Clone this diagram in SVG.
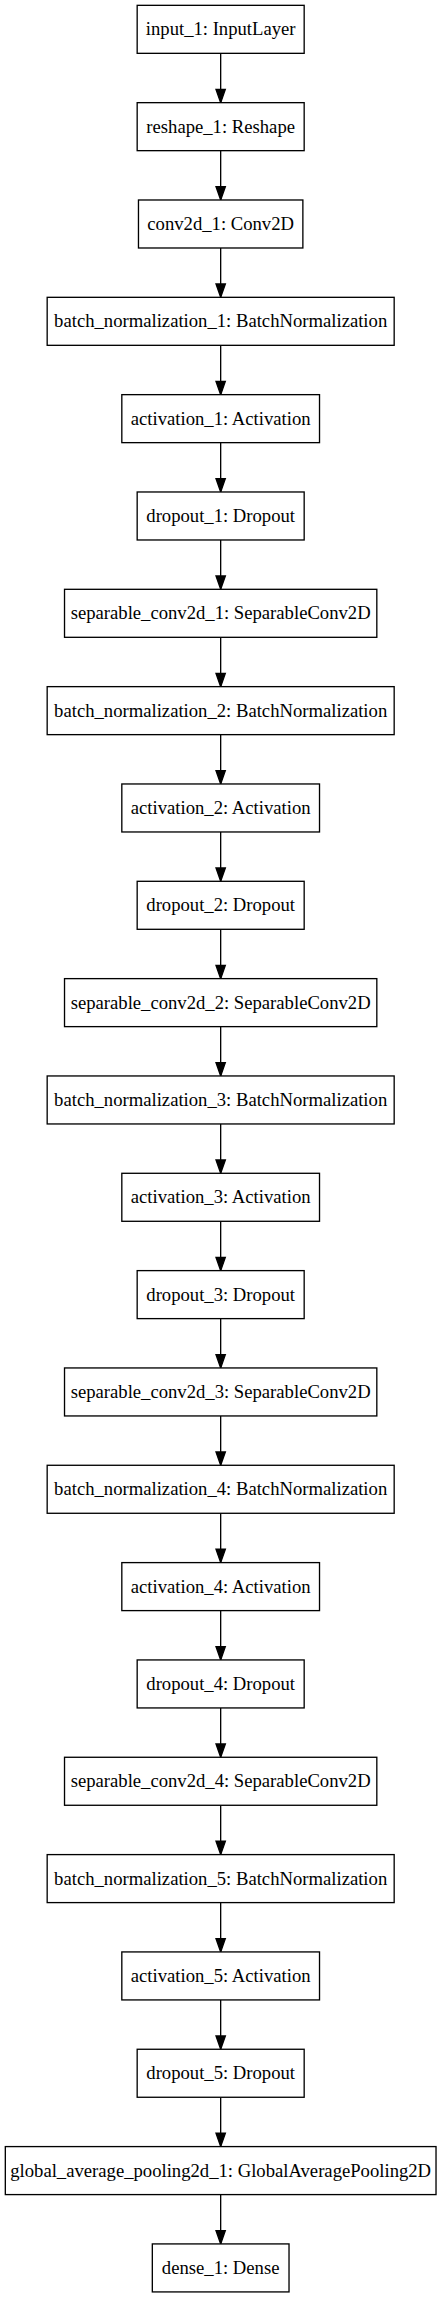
<svg xmlns="http://www.w3.org/2000/svg" width="441" height="2299" viewBox="0 0 441 2299">
<style>
.n rect{fill:#fff;stroke:#000;stroke-width:1.33}
.n text{font-family:"Liberation Serif","Times New Roman",serif;font-size:18.67px;text-anchor:middle;fill:#000}
.e line{stroke:#000;stroke-width:1.33;marker-end:url(#ah)}
</style>
<defs>
<marker id="ah" markerUnits="userSpaceOnUse" markerWidth="15" markerHeight="11" refX="13.33" refY="4.67" orient="auto" viewBox="-1 0 15 9.34" overflow="visible">
<path d="M0,0 L13.33,4.67 L0,9.34 Z" fill="#000" stroke="#000" stroke-width="1.33"/>
</marker>
</defs>
<rect width="441" height="2299" fill="#fff"/>
<g id="edges" class="e">
<line x1="220.67" y1="53.33" x2="220.67" y2="102.66"/>
<line x1="220.67" y1="150.66" x2="220.67" y2="199.99"/>
<line x1="220.67" y1="247.99" x2="220.67" y2="297.32"/>
<line x1="220.67" y1="345.32" x2="220.67" y2="394.65"/>
<line x1="220.67" y1="442.65" x2="220.67" y2="491.98"/>
<line x1="220.67" y1="539.98" x2="220.67" y2="589.31"/>
<line x1="220.67" y1="637.31" x2="220.67" y2="686.64"/>
<line x1="220.67" y1="734.64" x2="220.67" y2="783.97"/>
<line x1="220.67" y1="831.97" x2="220.67" y2="881.30"/>
<line x1="220.67" y1="929.30" x2="220.67" y2="978.63"/>
<line x1="220.67" y1="1026.63" x2="220.67" y2="1075.96"/>
<line x1="220.67" y1="1123.96" x2="220.67" y2="1173.29"/>
<line x1="220.67" y1="1221.29" x2="220.67" y2="1270.62"/>
<line x1="220.67" y1="1318.62" x2="220.67" y2="1367.95"/>
<line x1="220.67" y1="1415.95" x2="220.67" y2="1465.28"/>
<line x1="220.67" y1="1513.28" x2="220.67" y2="1562.61"/>
<line x1="220.67" y1="1610.61" x2="220.67" y2="1659.94"/>
<line x1="220.67" y1="1707.94" x2="220.67" y2="1757.27"/>
<line x1="220.67" y1="1805.27" x2="220.67" y2="1854.60"/>
<line x1="220.67" y1="1902.60" x2="220.67" y2="1951.93"/>
<line x1="220.67" y1="1999.93" x2="220.67" y2="2049.26"/>
<line x1="220.67" y1="2097.26" x2="220.67" y2="2146.59"/>
<line x1="220.67" y1="2194.59" x2="220.67" y2="2243.92"/>
</g>
<g id="input_1" class="n"><rect x="137.17" y="5.33" width="167" height="48"/><text x="220.67" y="35.2">input_1: InputLayer</text></g>
<g id="reshape_1" class="n"><rect x="137.17" y="102.66" width="167" height="48"/><text x="220.67" y="132.5">reshape_1: Reshape</text></g>
<g id="conv2d_1" class="n"><rect x="138.47" y="199.99" width="164.4" height="48"/><text x="220.67" y="229.9">conv2d_1: Conv2D</text></g>
<g id="batch_normalization_1" class="n"><rect x="47.17" y="297.32" width="347" height="48"/><text x="220.67" y="327.2">batch_normalization_1: BatchNormalization</text></g>
<g id="activation_1" class="n"><rect x="121.82" y="394.65" width="197.7" height="48"/><text x="220.67" y="424.5">activation_1: Activation</text></g>
<g id="dropout_1" class="n"><rect x="137.17" y="491.98" width="167" height="48"/><text x="220.67" y="521.9">dropout_1: Dropout</text></g>
<g id="separable_conv2d_1" class="n"><rect x="64.52" y="589.31" width="312.3" height="48"/><text x="220.67" y="619.2">separable_conv2d_1: SeparableConv2D</text></g>
<g id="batch_normalization_2" class="n"><rect x="47.17" y="686.64" width="347" height="48"/><text x="220.67" y="716.5">batch_normalization_2: BatchNormalization</text></g>
<g id="activation_2" class="n"><rect x="121.82" y="783.97" width="197.7" height="48"/><text x="220.67" y="813.9">activation_2: Activation</text></g>
<g id="dropout_2" class="n"><rect x="137.17" y="881.30" width="167" height="48"/><text x="220.67" y="911.2">dropout_2: Dropout</text></g>
<g id="separable_conv2d_2" class="n"><rect x="64.52" y="978.63" width="312.3" height="48"/><text x="220.67" y="1008.5">separable_conv2d_2: SeparableConv2D</text></g>
<g id="batch_normalization_3" class="n"><rect x="47.17" y="1075.96" width="347" height="48"/><text x="220.67" y="1105.9">batch_normalization_3: BatchNormalization</text></g>
<g id="activation_3" class="n"><rect x="121.82" y="1173.29" width="197.7" height="48"/><text x="220.67" y="1203.2">activation_3: Activation</text></g>
<g id="dropout_3" class="n"><rect x="137.17" y="1270.62" width="167" height="48"/><text x="220.67" y="1300.5">dropout_3: Dropout</text></g>
<g id="separable_conv2d_3" class="n"><rect x="64.52" y="1367.95" width="312.3" height="48"/><text x="220.67" y="1397.9">separable_conv2d_3: SeparableConv2D</text></g>
<g id="batch_normalization_4" class="n"><rect x="47.17" y="1465.28" width="347" height="48"/><text x="220.67" y="1495.2">batch_normalization_4: BatchNormalization</text></g>
<g id="activation_4" class="n"><rect x="121.82" y="1562.61" width="197.7" height="48"/><text x="220.67" y="1592.5">activation_4: Activation</text></g>
<g id="dropout_4" class="n"><rect x="137.17" y="1659.94" width="167" height="48"/><text x="220.67" y="1689.9">dropout_4: Dropout</text></g>
<g id="separable_conv2d_4" class="n"><rect x="64.52" y="1757.27" width="312.3" height="48"/><text x="220.67" y="1787.2">separable_conv2d_4: SeparableConv2D</text></g>
<g id="batch_normalization_5" class="n"><rect x="47.17" y="1854.60" width="347" height="48"/><text x="220.67" y="1884.5">batch_normalization_5: BatchNormalization</text></g>
<g id="activation_5" class="n"><rect x="121.82" y="1951.93" width="197.7" height="48"/><text x="220.67" y="1981.8">activation_5: Activation</text></g>
<g id="dropout_5" class="n"><rect x="137.17" y="2049.26" width="167" height="48"/><text x="220.67" y="2079.2">dropout_5: Dropout</text></g>
<g id="global_average_pooling2d_1" class="n"><rect x="5.32" y="2146.59" width="430.7" height="48"/><text x="220.67" y="2176.5">global_average_pooling2d_1: GlobalAveragePooling2D</text></g>
<g id="dense_1" class="n"><rect x="152.32" y="2243.92" width="136.7" height="48"/><text x="220.67" y="2273.8">dense_1: Dense</text></g>
</svg>
